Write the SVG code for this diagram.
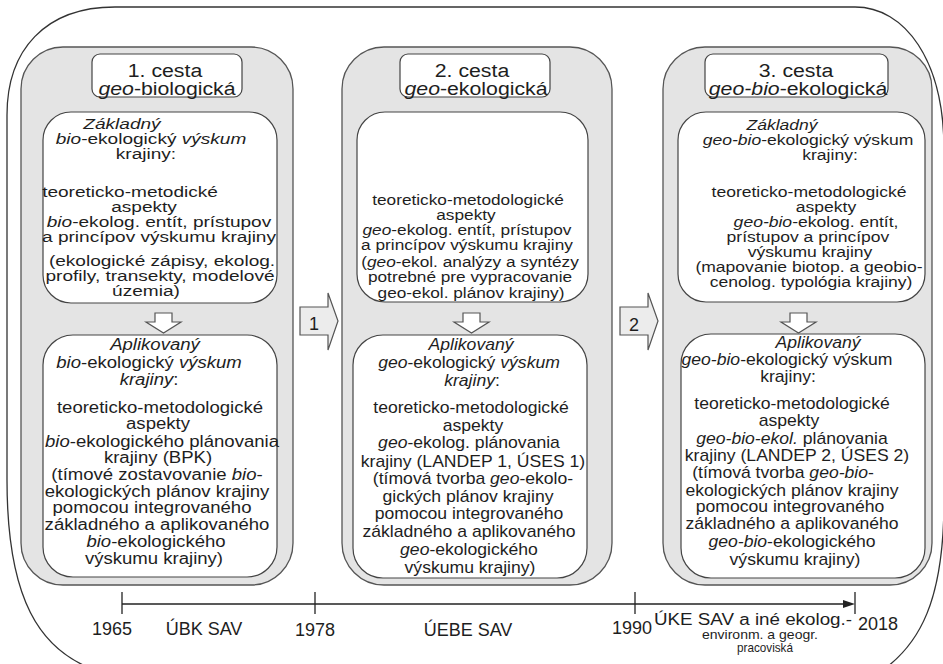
<svg xmlns="http://www.w3.org/2000/svg" width="943" height="664" viewBox="0 0 943 664">
<style>
.t{font-family:"Liberation Sans",Arial,sans-serif;fill:#1e1e1e;text-anchor:middle}
.i{font-style:italic}
.outer{fill:#fff;stroke:#333;stroke-width:1.3}
.panel{fill:#e4e4e4;stroke:#555;stroke-width:1.3}
.box{fill:#fff;stroke:#444;stroke-width:1.2}
.darr{fill:#fff;stroke:#555;stroke-width:1.2}
.rarr{fill:#ececec;stroke:#555;stroke-width:1.2}
.tl{stroke:#222;stroke-width:1.3;fill:none}
.ti{font-size:19px}
.f155{font-size:15.5px}
.f16{font-size:16px}
.f15{font-size:15px}
.f18{font-size:18px}
</style>
<rect width="943" height="664" fill="#fff"/>
<path class="outer" d="M7,115 C7,50 45,7 115,7 L855,7 C905,7 944,60 944,150 L944,500 C944,600 920,645 880,672 L95,670 C40,650 7,600 7,480 Z"/>

<g id="col1">
<rect class="panel" x="21" y="47" width="272" height="538" rx="42" ry="42"/>
<g id="title1">
<rect class="box" x="92" y="54" width="150" height="43" rx="8"/>
<text class="t ti" transform="translate(165,77) scale(1.12,1)">1. cesta</text>
<text class="t ti" transform="translate(167,95) scale(1.12,1)"><tspan class="i">geo</tspan>-biologická</text>
</g>
<g id="basic1">
<rect class="box" x="43" y="112" width="234" height="191" rx="28"/>
<g class="f155">
<text class="t i" transform="translate(122,129) scale(1.23,1)">Základný</text>
<text class="t" transform="translate(151,144) scale(1.23,1)"><tspan class="i">bio</tspan>-ekologický <tspan class="i">výskum</tspan></text>
<text class="t" transform="translate(146,159) scale(1.23,1)">krajiny:</text>
<text class="t" transform="translate(130,197) scale(1.23,1)">teoreticko-metodické</text>
<text class="t" transform="translate(144,212) scale(1.23,1)">aspekty</text>
<text class="t" transform="translate(159,227) scale(1.23,1)"><tspan class="i">bio</tspan>-ekolog. entít, prístupov</text>
<text class="t" transform="translate(159,242) scale(1.23,1)">a princípov výskumu krajiny</text>
<text class="t" transform="translate(162,266) scale(1.23,1)">(ekologické zápisy, ekolog.</text>
<text class="t" transform="translate(160,281) scale(1.23,1)">profily, transekty, modelové</text>
<text class="t" transform="translate(146,296) scale(1.23,1)">územia)</text>
</g>
</g>
<g id="applied1">
<rect class="box" x="43" y="335" width="234" height="242" rx="30"/>
<g class="f16">
<text class="t i" transform="translate(155,350) scale(1.16,1)">Aplikovaný</text>
<text class="t" transform="translate(149,368) scale(1.16,1)"><tspan class="i">bio</tspan>-ekologický <tspan class="i">výskum</tspan></text>
<text class="t" transform="translate(149,385) scale(1.16,1)"><tspan class="i">krajiny</tspan>:</text>
<text class="t" transform="translate(160,413) scale(1.16,1)">teoreticko-metodologické</text>
<text class="t" transform="translate(158,429) scale(1.16,1)">aspekty</text>
<text class="t" transform="translate(162,447) scale(1.16,1)"><tspan class="i">bio</tspan>-ekologického plánovania</text>
<text class="t" transform="translate(158,463) scale(1.16,1)">krajiny (BPK)</text>
<text class="t" transform="translate(157,480) scale(1.16,1)">(tímové zostavovanie <tspan class="i">bio</tspan>-</text>
<text class="t" transform="translate(157,497) scale(1.16,1)">ekologických plánov krajiny</text>
<text class="t" transform="translate(152,513) scale(1.16,1)">pomocou integrovaného</text>
<text class="t" transform="translate(157,530) scale(1.16,1)">základného a aplikovaného</text>
<text class="t" transform="translate(156,547) scale(1.16,1)"><tspan class="i">bio</tspan>-ekologického</text>
<text class="t" transform="translate(154,564) scale(1.16,1)">výskumu krajiny)</text>
</g>
</g>
</g>

<g id="col2">
<rect class="panel" x="342" y="47" width="270" height="538" rx="42" ry="42"/>
<g id="title2">
<rect class="box" x="400" y="54" width="150" height="43" rx="8"/>
<text class="t ti" transform="translate(472,77) scale(1.12,1)">2. cesta</text>
<text class="t ti" transform="translate(476,95) scale(1.12,1)"><tspan class="i">geo</tspan>-ekologická</text>
</g>
<g id="basic2">
<rect class="box" x="357" y="112" width="231" height="190" rx="28"/>
<g class="f15">
<text class="t" transform="translate(468,205) scale(1.15,1)">teoreticko-metodologické</text>
<text class="t" transform="translate(466,220) scale(1.15,1)">aspekty</text>
<text class="t" transform="translate(467,235) scale(1.15,1)"><tspan class="i">geo</tspan>-ekolog. entít, prístupov</text>
<text class="t" transform="translate(467,250) scale(1.15,1)">a princípov výskumu krajiny</text>
<text class="t" transform="translate(470,267) scale(1.15,1)">(<tspan class="i">geo</tspan>-ekol. analýzy a syntézy</text>
<text class="t" transform="translate(470,282) scale(1.15,1)">potrebné pre vypracovanie</text>
<text class="t" transform="translate(471,298) scale(1.15,1)">geo-ekol. plánov krajiny)</text>
</g>
</g>
<g id="applied2">
<rect class="box" x="353" y="335" width="234" height="243" rx="30"/>
<g class="f16">
<text class="t i" transform="translate(471,350) scale(1.1,1)">Aplikovaný</text>
<text class="t" transform="translate(469,368) scale(1.1,1)"><tspan class="i">geo</tspan>-ekologický <tspan class="i">výskum</tspan></text>
<text class="t" transform="translate(472,386) scale(1.1,1)"><tspan class="i">krajiny</tspan>:</text>
<text class="t" transform="translate(471,413) scale(1.1,1)">teoreticko-metodologické</text>
<text class="t" transform="translate(473,431) scale(1.1,1)">aspekty</text>
<text class="t" transform="translate(469,448) scale(1.1,1)"><tspan class="i">geo</tspan>-ekolog. plánovania</text>
<text class="t" transform="translate(473,467) scale(1.1,1)">krajiny (LANDEP 1, ÚSES 1)</text>
<text class="t" transform="translate(473,484) scale(1.1,1)">(tímová tvorba <tspan class="i">geo</tspan>-ekolo-</text>
<text class="t" transform="translate(468,502) scale(1.1,1)">gických plánov krajiny</text>
<text class="t" transform="translate(469,519) scale(1.1,1)">pomocou integrovaného</text>
<text class="t" transform="translate(469,537) scale(1.1,1)">základného a aplikovaného</text>
<text class="t" transform="translate(469,555) scale(1.1,1)"><tspan class="i">geo</tspan>-ekologického</text>
<text class="t" transform="translate(470,573) scale(1.1,1)">výskumu krajiny)</text>
</g>
</g>
</g>

<g id="col3">
<rect class="panel" x="663" y="47" width="269" height="538" rx="42" ry="42"/>
<g id="title3">
<rect class="box" x="705" y="54" width="183" height="43" rx="8"/>
<text class="t ti" transform="translate(796,77) scale(1.12,1)">3. cesta</text>
<text class="t ti" transform="translate(798,95) scale(1.12,1)"><tspan class="i">geo-bio</tspan>-ekologická</text>
</g>
<g id="basic3">
<rect class="box" x="678" y="112" width="247" height="190" rx="28"/>
<g class="f15">
<text class="t i" transform="translate(782,130) scale(1.17,1)">Základný</text>
<text class="t" transform="translate(808,145) scale(1.17,1)"><tspan class="i">geo-bio</tspan>-ekologický výskum</text>
<text class="t" transform="translate(830,160) scale(1.17,1)">krajiny:</text>
<text class="t" transform="translate(809,197) scale(1.17,1)">teoreticko-metodologické</text>
<text class="t" transform="translate(826,212) scale(1.17,1)">aspekty</text>
<text class="t" transform="translate(816,227) scale(1.17,1)"><tspan class="i">geo-bio</tspan>-ekolog. entít,</text>
<text class="t" transform="translate(808,242) scale(1.17,1)">prístupov a princípov</text>
<text class="t" transform="translate(810,257) scale(1.17,1)">výskumu krajiny</text>
<text class="t" transform="translate(809,272) scale(1.17,1)">(mapovanie biotop. a geobio-</text>
<text class="t" transform="translate(811,287) scale(1.17,1)">cenolog. typológia krajiny)</text>
</g>
</g>
<g id="applied3">
<rect class="box" x="681" y="334" width="244" height="244" rx="30"/>
<g class="f16">
<text class="t i" transform="translate(818,348) scale(1.1,1)">Aplikovaný</text>
<text class="t" transform="translate(787,365) scale(1.1,1)"><tspan class="i">geo-bio</tspan>-ekologický výskum</text>
<text class="t" transform="translate(788,382) scale(1.1,1)">krajiny:</text>
<text class="t" transform="translate(792,409) scale(1.1,1)">teoreticko-metodologické</text>
<text class="t" transform="translate(789,426) scale(1.1,1)">aspekty</text>
<text class="t" transform="translate(792,444) scale(1.1,1)"><tspan class="i">geo-bio-ekol.</tspan> plánovania</text>
<text class="t" transform="translate(797,461) scale(1.1,1)">krajiny (LANDEP 2, ÚSES 2)</text>
<text class="t" transform="translate(783,478) scale(1.1,1)">(tímová tvorba <tspan class="i">geo-bio</tspan>-</text>
<text class="t" transform="translate(792,496) scale(1.1,1)">ekologických plánov krajiny</text>
<text class="t" transform="translate(790,512) scale(1.1,1)">pomocou integrovaného</text>
<text class="t" transform="translate(792,529) scale(1.1,1)">základného a aplikovaného</text>
<text class="t" transform="translate(792,547) scale(1.1,1)"><tspan class="i">geo-bio</tspan>-ekologického</text>
<text class="t" transform="translate(795,565) scale(1.1,1)">výskumu krajiny)</text>
</g>
</g>
</g>

<g id="connectors">
<polygon class="darr" points="155,313 172,313 172,322 181,322 163.5,333 146,322 155,322"/>
<polygon class="darr" points="463,313 480,313 480,322 489,322 471.5,333 454,322 463,322"/>
<polygon class="darr" points="790,313 807,313 807,322 816,322 798.5,333 781,322 790,322"/>
<g id="arrow1">
<polygon class="rarr" points="300,307 328,307 328,293 338,321 328,350 328,335 300,335"/>
<text class="t f18" x="314" y="330">1</text>
</g>
<g id="arrow2">
<polygon class="rarr" points="620,307 648,307 648,293 658,321 648,350 648,335 620,335"/>
<text class="t f18" x="634" y="331">2</text>
</g>
</g>

<g id="timeline">
<line class="tl" x1="122" y1="604" x2="850" y2="604"/>
<line class="tl" x1="122" y1="592" x2="122" y2="614"/>
<line class="tl" x1="315" y1="592" x2="315" y2="614"/>
<line class="tl" x1="635" y1="592" x2="635" y2="614"/>
<line class="tl" x1="855" y1="592" x2="855" y2="614"/>
<polygon points="843,600 855,604 843,608" fill="#222"/>
<text class="t f18" x="112" y="635">1965</text>
<text class="t f18" x="204" y="635">ÚBK SAV</text>
<text class="t f18" x="315" y="636">1978</text>
<text class="t f18" x="468" y="636">ÚEBE SAV</text>
<text class="t f18" x="632" y="634">1990</text>
<text class="t" style="font-size:16px" x="753" y="625" textLength="198" lengthAdjust="spacingAndGlyphs">ÚKE SAV a iné ekolog.-</text>
<text class="t" style="font-size:13px" x="760" y="639" textLength="116" lengthAdjust="spacingAndGlyphs">environm. a geogr.</text>
<text class="t" style="font-size:13px" x="765" y="652" textLength="56" lengthAdjust="spacingAndGlyphs">pracoviská</text>
<text class="t f18" x="878" y="630">2018</text>
</g>
</svg>
